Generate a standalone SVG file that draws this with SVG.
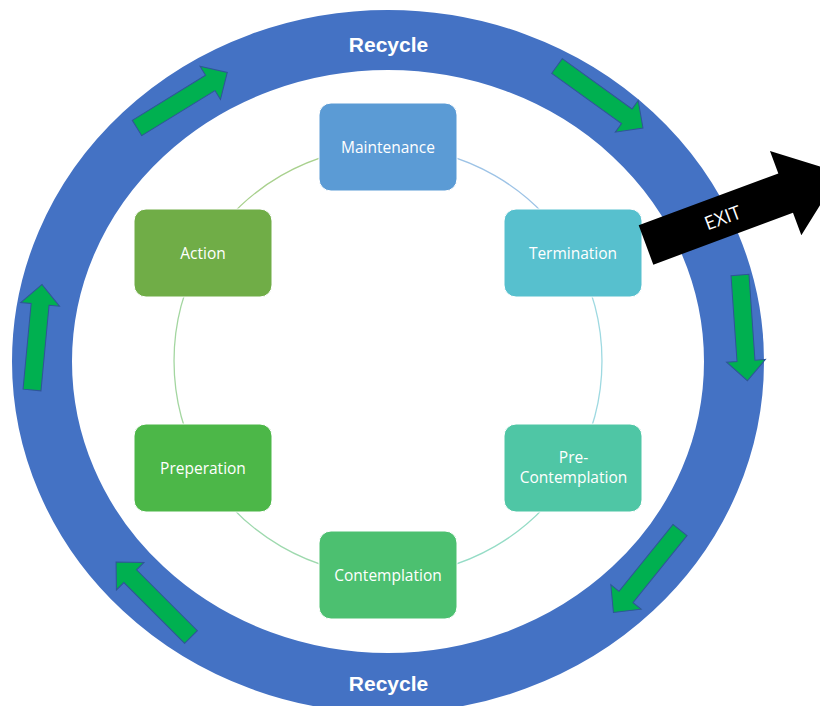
<svg xmlns="http://www.w3.org/2000/svg" xmlns:xlink="http://www.w3.org/1999/xlink" width="820" height="706" viewBox="0 0 820 706">
<style>
.node rect{stroke:#ffffff;stroke-width:1}
.lbl{font-family:"Open Sans","Liberation Sans",sans-serif;font-size:15.5px;fill:#ffffff;text-anchor:middle}
.rec{font-family:"Liberation Sans",Arial,sans-serif;font-size:21px;font-weight:bold;fill:#ffffff;text-anchor:middle}
.garrow{fill:#00B050;stroke:#2F5597;stroke-width:1}
.arc{fill:none;stroke-width:1.3}
</style>
<defs>
<path id="ga" d="M0,-9 H86 V-19.5 L106,0 L86,19.5 V9 H0 Z"/>
</defs>
<rect width="820" height="706" fill="#ffffff"/>
<g id="ring">
<ellipse cx="388" cy="361.5" rx="346" ry="321.5" fill="none" stroke="#4472C4" stroke-width="60"/>
<text class="rec" x="388.5" y="52">Recycle</text>
<text class="rec" x="388.5" y="691">Recycle</text>
</g>
<g id="cycle-arrows" class="garrow">
<use xlink:href="#ga" transform="translate(137,128) rotate(-31.6)"/>
<use xlink:href="#ga" transform="translate(557,66) rotate(35.8)"/>
<use xlink:href="#ga" transform="translate(740,275) rotate(86)"/>
<use xlink:href="#ga" transform="translate(680,530) rotate(128.9)"/>
<use xlink:href="#ga" transform="translate(191,637) rotate(-135)"/>
<use xlink:href="#ga" transform="translate(32,390) rotate(-84.6)"/>
</g>
<g id="connectors">
<path class="arc" stroke="#9DC3E6" d="M388,147 A214,214 0 0 1 573.3,254"/>
<path class="arc" stroke="#9ED9E1" d="M573.3,254 A214,214 0 0 1 573.3,468"/>
<path class="arc" stroke="#95DCC6" d="M573.3,468 A214,214 0 0 1 388,575"/>
<path class="arc" stroke="#9ED9AE" d="M388,575 A214,214 0 0 1 202.7,468"/>
<path class="arc" stroke="#A3D6A0" d="M202.7,468 A214,214 0 0 1 202.7,254"/>
<path class="arc" stroke="#A9D18E" d="M202.7,254 A214,214 0 0 1 388,147"/>
</g>
<g id="maintenance" class="node">
<rect x="319" y="103" width="138" height="88" rx="12" fill="#5B9BD5"/>
<text class="lbl" x="388" y="152.5">Maintenance</text>
</g>
<g id="termination" class="node">
<rect x="504" y="209" width="138" height="88" rx="12" fill="#57C0CE"/>
<text class="lbl" x="573" y="258.5">Termination</text>
</g>
<g id="pre-contemplation" class="node">
<rect x="504" y="424" width="138" height="88" rx="12" fill="#4FC6A5"/>
<text class="lbl" x="573.5" y="463">Pre-</text>
<text class="lbl" x="573.5" y="483">Contemplation</text>
</g>
<g id="contemplation" class="node">
<rect x="319" y="531" width="138" height="88" rx="12" fill="#4CC070"/>
<text class="lbl" x="388" y="580.5">Contemplation</text>
</g>
<g id="preperation" class="node">
<rect x="134" y="424" width="138" height="88" rx="12" fill="#4CB748"/>
<text class="lbl" x="203" y="473.5">Preperation</text>
</g>
<g id="action" class="node">
<rect x="134" y="209" width="138" height="88" rx="12" fill="#70AD47"/>
<text class="lbl" x="203" y="258.5">Action</text>
</g>
<g id="exit">
<path d="M0,-21 H149 V-45 L207,0 L149,45 V21 H0 Z" fill="#000000" transform="translate(646,245) rotate(-20.4)"/>
<text x="0" y="0" transform="translate(725,224) rotate(-20.4)" font-family="'Open Sans','Liberation Sans',sans-serif" font-size="19" fill="#ffffff" text-anchor="middle">EXIT</text>
</g>
</svg>
